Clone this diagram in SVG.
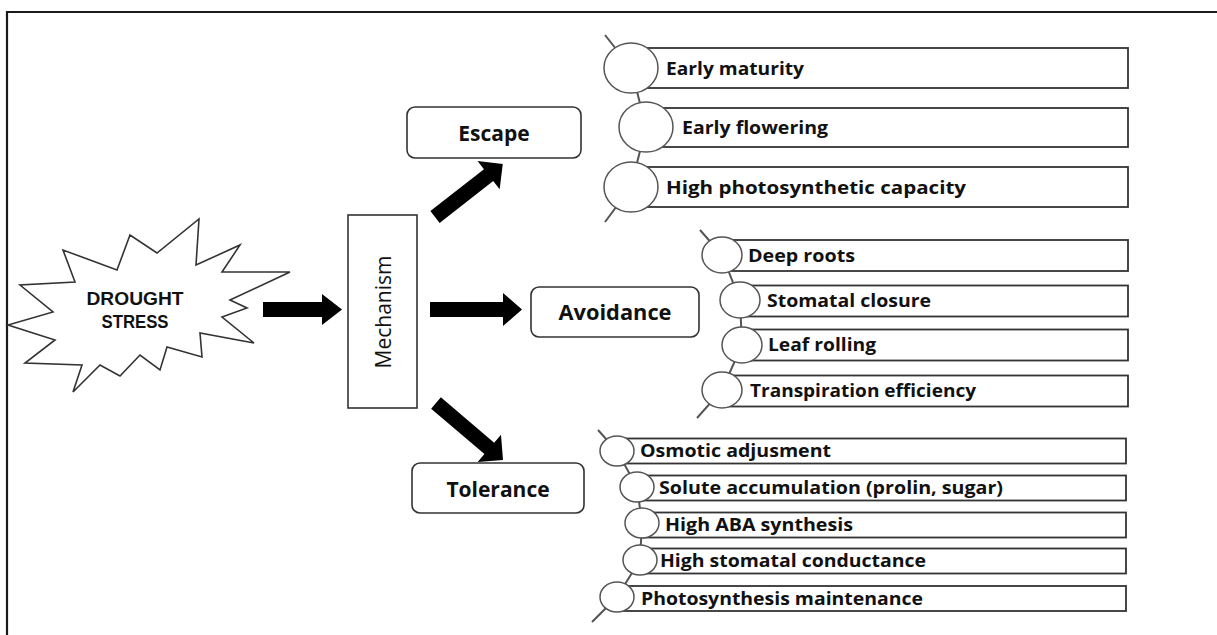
<svg xmlns="http://www.w3.org/2000/svg" width="1217" height="635" viewBox="0 0 1217 635">
<style>
.frame{stroke:#1a1a1a;stroke-width:2.2;fill:none}
.box{fill:#fff;stroke:#333;stroke-width:1.6}
.item{fill:#fff;stroke:#333;stroke-width:1.8}
.bead{fill:#fff;stroke:#555;stroke-width:1.5}
.chain{fill:none;stroke:#555;stroke-width:2}
.blk{fill:#000}
.star{fill:#fff;stroke:#333;stroke-width:1.6;stroke-linejoin:miter}
text{font-family:"Open Sans","Liberation Sans",sans-serif;fill:#111}
.lbl{font-weight:700;font-size:21px;text-anchor:middle}
.t1{font-weight:700;font-size:18.5px}
.t2{font-weight:700;font-size:18px}
.t3{font-weight:700;font-size:18px}
.mech{font-size:21px;text-anchor:middle}
.ds{font-family:"Liberation Sans",Arial,sans-serif;font-weight:700;font-size:18px;text-anchor:middle}
</style>
<rect width="1217" height="635" fill="#fff"/>
<path class="frame" d="M7,635 V12 H1217"/>

<g id="drought-stress">
<polygon class="star" points="199,219 196,265 240,245 222,272 290,272 230,300 247,308 222,317 254,343 200,333 202,357 167,347 160,370 140,355 120,376 100,365 73,392 82,365 25,363 55,340 8,325 53,312 20,285 75,282 63,250 117,270 130,235 157,253"/>
<text class="ds" x="135" y="305" textLength="97" lengthAdjust="spacingAndGlyphs">DROUGHT</text>
<text class="ds" x="135" y="328" textLength="67" lengthAdjust="spacingAndGlyphs">STRESS</text>
</g>

<g id="mechanism">
<rect class="box" x="348" y="215" width="69" height="193"/>
<text class="mech" transform="translate(391,312) rotate(-90)">Mechanism</text>
</g>

<g id="escape">
<rect class="box" x="407" y="107" width="174" height="51" rx="8"/>
<text class="lbl" x="494" y="141">Escape</text>
</g>
<g id="avoidance">
<rect class="box" x="531" y="287" width="168" height="50" rx="8"/>
<text class="lbl" x="615" y="320" textLength="113" lengthAdjust="spacingAndGlyphs">Avoidance</text>
</g>
<g id="tolerance">
<rect class="box" x="412" y="463" width="172" height="50" rx="8"/>
<text class="lbl" x="498" y="497">Tolerance</text>
</g>

<g id="connectors">
<polygon class="blk" points="263,302 322,302 322,294 342,309.5 322,325 322,317 263,317"/>
<polygon class="blk" points="430,302 503,302 503,293 522,309.5 503,326 503,317 430,317"/>
<polygon class="blk" points="0,-7.5 68,-7.5 68,-18 86,0 68,18 68,7.5 0,7.5" transform="translate(435,217) rotate(-38)"/>
<polygon class="blk" points="0,-7.5 70,-7.5 70,-18 88,0 70,18 70,7.5 0,7.5" transform="translate(436,403) rotate(40.4)"/>
<polyline class="chain" points="605,35 631,68 646,127 631,187 605,222"/>
<polyline class="chain" points="700,230 722,255 740,300 742,345 722,390 697,418"/>
<polyline class="chain" points="598,430 617,451 637,487 642,523 640,560 617,597 592,622"/>
</g>

<g id="escape-traits">
<g id="early-maturity">
<rect class="item" x="631" y="48" width="497" height="40"/>
<ellipse class="bead" cx="631" cy="68" rx="27" ry="25"/>
<text class="t1" x="666" y="75" textLength="138" lengthAdjust="spacingAndGlyphs">Early maturity</text>
</g>
<g id="early-flowering">
<rect class="item" x="646" y="108" width="482" height="39"/>
<ellipse class="bead" cx="646" cy="127" rx="27" ry="25"/>
<text class="t1" x="682" y="134" textLength="146" lengthAdjust="spacingAndGlyphs">Early flowering</text>
</g>
<g id="high-photosynthetic-capacity">
<rect class="item" x="631" y="167" width="497" height="40"/>
<ellipse class="bead" cx="631" cy="187" rx="27" ry="25"/>
<text class="t1" x="666" y="194" textLength="300" lengthAdjust="spacingAndGlyphs">High photosynthetic capacity</text>
</g>
</g>

<g id="avoidance-traits">
<g id="deep-roots">
<rect class="item" x="722" y="240" width="406" height="31"/>
<ellipse class="bead" cx="722" cy="255" rx="20" ry="18"/>
<text class="t2" x="748" y="262" textLength="107" lengthAdjust="spacingAndGlyphs">Deep roots</text>
</g>
<g id="stomatal-closure">
<rect class="item" x="740" y="285.5" width="388" height="31"/>
<ellipse class="bead" cx="740" cy="300" rx="20" ry="18"/>
<text class="t2" x="767" y="307" textLength="164" lengthAdjust="spacingAndGlyphs">Stomatal closure</text>
</g>
<g id="leaf-rolling">
<rect class="item" x="742" y="329.5" width="386" height="31"/>
<ellipse class="bead" cx="742" cy="345" rx="20" ry="18"/>
<text class="t2" x="768" y="351" textLength="108" lengthAdjust="spacingAndGlyphs">Leaf rolling</text>
</g>
<g id="transpiration-efficiency">
<rect class="item" x="722" y="375.5" width="406" height="31"/>
<ellipse class="bead" cx="722" cy="390" rx="20" ry="18"/>
<text class="t2" x="750" y="397" textLength="226" lengthAdjust="spacingAndGlyphs">Transpiration efficiency</text>
</g>
</g>

<g id="tolerance-traits">
<g id="osmotic-adjusment">
<rect class="item" x="617" y="438.5" width="509" height="25"/>
<ellipse class="bead" cx="617" cy="451" rx="17" ry="15"/>
<text class="t3" x="640" y="457" textLength="191" lengthAdjust="spacingAndGlyphs">Osmotic adjusment</text>
</g>
<g id="solute-accumulation">
<rect class="item" x="637" y="475.5" width="489" height="25"/>
<ellipse class="bead" cx="637" cy="487" rx="17" ry="15"/>
<text class="t3" x="659" y="494" textLength="344" lengthAdjust="spacingAndGlyphs">Solute accumulation (prolin, sugar)</text>
</g>
<g id="high-aba-synthesis">
<rect class="item" x="642" y="512.5" width="484" height="25"/>
<ellipse class="bead" cx="642" cy="523" rx="17" ry="15"/>
<text class="t3" x="665" y="531" textLength="188" lengthAdjust="spacingAndGlyphs">High ABA synthesis</text>
</g>
<g id="high-stomatal-conductance">
<rect class="item" x="640" y="548.5" width="486" height="25"/>
<ellipse class="bead" cx="640" cy="560" rx="17" ry="15"/>
<text class="t3" x="660" y="567" textLength="266" lengthAdjust="spacingAndGlyphs">High stomatal conductance</text>
</g>
<g id="photosynthesis-maintenance">
<rect class="item" x="617" y="586" width="509" height="25"/>
<ellipse class="bead" cx="617" cy="597" rx="17" ry="15"/>
<text class="t3" x="641" y="604.5" textLength="282" lengthAdjust="spacingAndGlyphs">Photosynthesis maintenance</text>
</g>
</g>
</svg>
